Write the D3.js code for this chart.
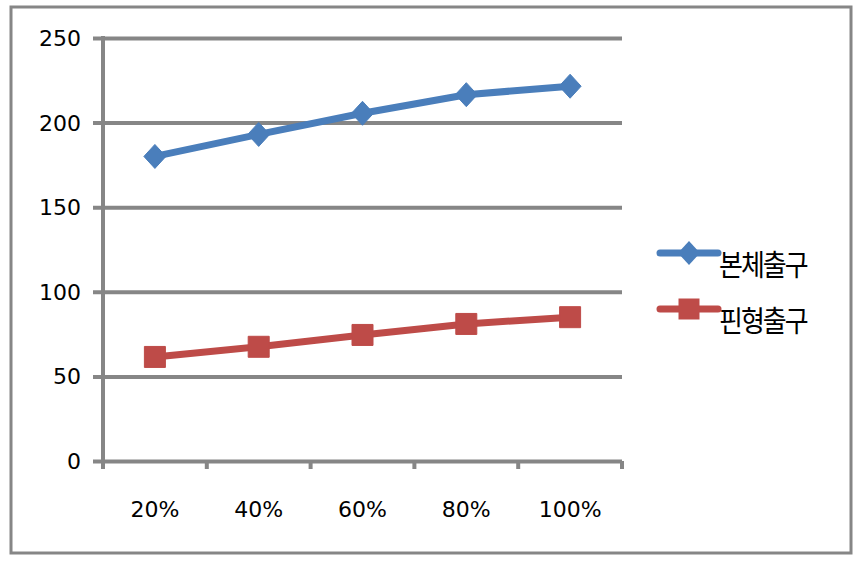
<!DOCTYPE html>
<html>
<head>
<meta charset="utf-8">
<script src="https://cdn.jsdelivr.net/npm/d3@7"></script>
<style>
  body { margin: 0; background: #fff; }
  text { font-family: "DejaVu Sans", sans-serif; fill: #000; }
  text.legend-label { font-family: "Noto Sans CJK KR", sans-serif; }
</style>
</head>
<body>
<div id="chart"></div>
<script>
var categories = ["20%", "40%", "60%", "80%", "100%"];
var bodyOutlet = [180, 193, 205.5, 216.5, 221.5];   // 본체출구
var pinOutlet = [61.5, 67.5, 74.5, 81, 85];          // 핀형출구
var yTicks = [0, 50, 100, 150, 200, 250];

var seriesList = [
  { name: "본체출구", values: bodyOutlet, color: "#4A7EBB", marker: "diamond" },
  { name: "핀형출구", values: pinOutlet, color: "#BE4B48", marker: "square" }
];

var w = 858, h = 572;
var marginLeft = 103, marginTop = 38, contentsWidth = 519, contentsHeight = 423;
var gridColor = "#868686";

var svg = d3.select("#chart").append("svg")
  .attr("width", w)
  .attr("height", h);

// outer frame
svg.append("rect")
  .attr("x", 11).attr("y", 7)
  .attr("width", 840).attr("height", 546)
  .attr("fill", "#fff")
  .attr("stroke", gridColor)
  .attr("stroke-width", 3);

var chartG = svg.append("g")
  .attr("transform", "translate(" + marginLeft + "," + marginTop + ")");

var xScale = d3.scaleBand().domain(categories).range([0, contentsWidth]);
var yScale = d3.scaleLinear().domain([0, 250]).range([contentsHeight, 0]);

// gridlines
var yAxis = chartG.append("g")
  .call(d3.axisLeft(yScale).tickValues(yTicks).tickSize(-(contentsWidth + 10)).tickPadding(0).tickFormat(""))
  .attr("transform", "translate(-10,0)");
yAxis.select(".domain").remove();
yAxis.selectAll("line").attr("stroke", gridColor).attr("stroke-width", 4);

chartG.selectAll(".ylab").data(yTicks).enter().append("text")
  .attr("class", "ylab")
  .attr("x", -22)
  .attr("y", function(d) { return yScale(d); })
  .attr("dy", "0.36em")
  .attr("text-anchor", "end")
  .style("font-size", "22px")
  .text(function(d) { return d; });

// y axis line
chartG.append("line")
  .attr("x1", 0).attr("x2", 0)
  .attr("y1", yScale(250) - 2).attr("y2", yScale(0) + 2)
  .attr("stroke", gridColor).attr("stroke-width", 4);

// x ticks at band boundaries
var edges = categories.map(function(c) { return xScale(c); }).concat([contentsWidth]);
chartG.selectAll(".xtick").data(edges).enter().append("line")
  .attr("class", "xtick")
  .attr("x1", function(d) { return d; }).attr("x2", function(d) { return d; })
  .attr("y1", contentsHeight).attr("y2", contentsHeight + 8)
  .attr("stroke", gridColor).attr("stroke-width", 4);

chartG.selectAll(".xlab").data(categories).enter().append("text")
  .attr("class", "xlab")
  .attr("x", function(d) { return xScale(d) + xScale.bandwidth() / 2; })
  .attr("y", contentsHeight + 56)
  .attr("text-anchor", "middle")
  .style("font-size", "22px")
  .text(function(d) { return d; });

var line = d3.line()
  .x(function(d, i) { return xScale(categories[i]) + xScale.bandwidth() / 2; })
  .y(function(d) { return yScale(d); });

function markerPath(type) {
  if (type === "diamond") return "M0,-12L11,0L0,12L-11,0Z";
  return "M-10.5,-10.5L10.5,-10.5L10.5,10.5L-10.5,10.5Z";
}

seriesList.forEach(function(s) {
  chartG.append("path")
    .datum(s.values)
    .attr("d", line)
    .attr("fill", "none")
    .attr("stroke", s.color)
    .attr("stroke-width", 7)
    .attr("stroke-linejoin", "round");

  chartG.selectAll(".m-" + s.marker).data(s.values).enter().append("path")
    .attr("class", "m-" + s.marker)
    .attr("transform", function(d, i) {
      return "translate(" + (xScale(categories[i]) + xScale.bandwidth() / 2) + "," + yScale(d) + ")";
    })
    .attr("d", markerPath(s.marker))
    .attr("fill", s.color)
    .attr("stroke", s.color)
    .attr("stroke-width", 1)
    .attr("stroke-linejoin", "round");
});

// legend
var legend = svg.append("g").attr("transform", "translate(660,253)");
var item = legend.selectAll(".item").data(seriesList).enter().append("g")
  .attr("class", "item")
  .attr("transform", function(d, i) { return "translate(0," + (i * 56) + ")"; });

item.append("line")
  .attr("x1", 0).attr("x2", 58)
  .attr("stroke", function(d) { return d.color; })
  .attr("stroke-width", 7)
  .attr("stroke-linecap", "round");

item.append("path")
  .attr("transform", "translate(29,0)")
  .attr("d", function(d) { return markerPath(d.marker); })
  .attr("fill", function(d) { return d.color; });

item.append("text")
  .attr("class", "legend-label")
  .attr("x", 59)
  .attr("y", 0)
  .attr("dy", "0.78em")
  .attr("transform", "scale(1,1.12)")
  .style("font-size", "26px")
  .style("letter-spacing", "-2px")
  .text(function(d) { return d.name; });
</script>
</body>
</html>
